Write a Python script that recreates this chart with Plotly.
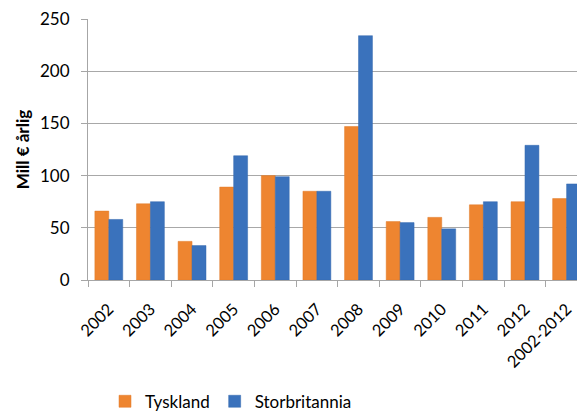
import plotly.graph_objects as go

categories = ["2002", "2003", "2004", "2005", "2006", "2007", "2008", "2009",
              "2010", "2011", "2012", "2002-2012"]
tyskland = [66, 73, 37, 89, 100, 85, 147, 56, 60, 72, 75, 78]
storbritannia = [58, 75, 33, 119, 99, 85, 234, 55, 49, 75, 129, 92]

FONT = "Lato"

fig = go.Figure()
fig.add_trace(go.Bar(x=categories, y=tyskland, name="Tyskland",
                     marker=dict(color="#EE8530", line=dict(color="#E07A28", width=0.5))))
fig.add_trace(go.Bar(x=categories, y=storbritannia, name="Storbritannia",
                     marker=dict(color="#3A72BC", line=dict(color="#3468AE", width=0.5))))

fig.update_layout(
    width=577, height=412,
    margin=dict(l=88, r=0, t=19, b=132, autoexpand=False),
    paper_bgcolor="white", plot_bgcolor="white",
    barmode="group", bargap=0.33, bargroupgap=0,
    font=dict(family=FONT, color="#000000"),
    showlegend=True,
    legend=dict(orientation="h", xref="container", yref="container",
                x=0.182, y=0.025, xanchor="left", yanchor="middle",
                font=dict(size=17, family=FONT), itemwidth=30,
                traceorder="normal"),
    xaxis=dict(type="category", range=[-0.5, 11.25], automargin=False,
               showline=True, linecolor="#a6a6a6", linewidth=1,
               ticks="outside", tickson="boundaries", ticklen=6, tickcolor="#a6a6a6",
               tickangle=-45, tickfont=dict(size=16.5, family=FONT),
               ticklabelstandoff=12,
               showgrid=False),
    yaxis=dict(range=[0, 250], dtick=50, showgrid=True, gridcolor="#a8a8a8", gridwidth=1,
               automargin=False,
               showline=True, linecolor="#a6a6a6", linewidth=1,
               ticks="outside", ticklen=6, tickcolor="#a6a6a6",
               ticklabelstandoff=8,
               tickfont=dict(size=17, family=FONT), zeroline=False,
               title=dict(text="<b>Mill € årlig</b>", font=dict(size=17, family=FONT),
                          standoff=6)),
)

fig.write_html("out.html", config={"displayModeBar": False},
               post_script="document.body.style.margin='0';document.body.style.overflow='hidden';")
